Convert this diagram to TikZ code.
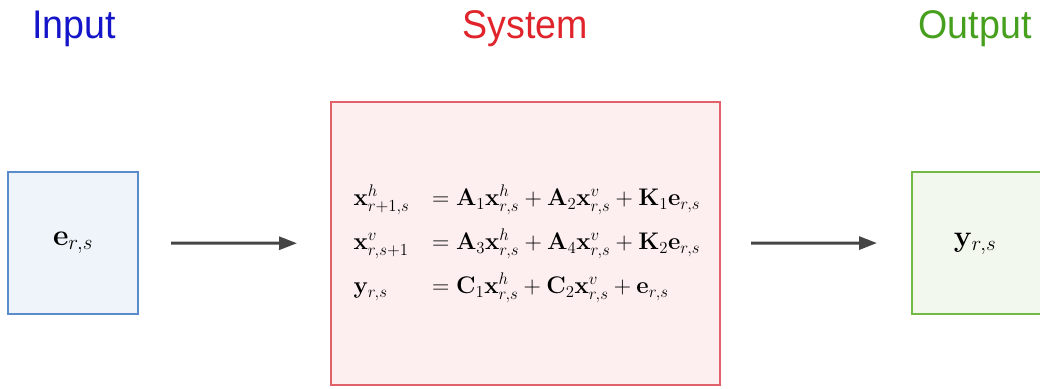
\RequirePackage{fix-cm}
\documentclass[tikz,border=0pt]{standalone}
\usepackage{amsmath}
\usepackage[no-math]{fontspec}
\newfontfamily\titlefont{Liberation Sans}
\usetikzlibrary{arrows.meta}
\definecolor{inblue}{HTML}{1414C8}
\definecolor{sysred}{HTML}{E0242C}
\definecolor{outgreen}{HTML}{46A01E}
\definecolor{inborder}{HTML}{5A8CCB}
\definecolor{infill}{HTML}{EEF4FA}
\definecolor{sysborder}{HTML}{E2606A}
\definecolor{sysfill}{HTML}{FDEFEF}
\definecolor{outborder}{HTML}{72BA44}
\definecolor{outfill}{HTML}{F3F8EF}
\definecolor{arrgray}{HTML}{454545}
\begin{document}
\begin{tikzpicture}[x=1pt,y=-1pt,
  title/.style={font=\titlefont\fontsize{40}{44}\selectfont, inner sep=0pt, anchor=base},
  boxstyle/.style={draw, line width=2pt, inner sep=0pt},
  conn/.style={draw=arrgray, line width=3pt, -{Triangle[length=18pt,width=13pt]}},
  mathlbl/.style={font=\fontsize{24}{29}\selectfont},
  boxlbl/.style={font=\fontsize{30}{35}\selectfont}]
\clip (0,0) rectangle (1040,388);
\useasboundingbox (0,0) rectangle (1040,388);
\node[title, text=inblue] (tin) at (74,38) {\scalebox{0.94}[1]{Input}};
\node[title, text=sysred] (tsys) at (525,38) {\scalebox{0.94}[1]{System}};
\node[title, text=outgreen] (tout) at (975,38) {\scalebox{0.94}[1]{Output}};
\node[boxstyle, draw=inborder, fill=infill, minimum width=130pt, minimum height=142pt] (inp) at (73,243) {};
\node[boxlbl] (inlbl) at (inp.center) {$\mathbf{e}_{r,s}$};
\node[boxstyle, draw=sysborder, fill=sysfill, minimum width=389pt, minimum height=283pt] (sys) at (525.5,243.5) {};
\node[mathlbl, anchor=west] (eqs) at (350,244) {$\begin{array}{@{}l@{\hspace{16pt}}l@{}}
\mathbf{x}^h_{r+1,s} & {}= \mathbf{A}_1\mathbf{x}^h_{r,s} + \mathbf{A}_2\mathbf{x}^v_{r,s} + \mathbf{K}_1\mathbf{e}_{r,s}\\[15pt]
\mathbf{x}^v_{r,s+1} & {}= \mathbf{A}_3\mathbf{x}^h_{r,s} + \mathbf{A}_4\mathbf{x}^v_{r,s} + \mathbf{K}_2\mathbf{e}_{r,s}\\[15pt]
\mathbf{y}_{r,s} & {}= \mathbf{C}_1\mathbf{x}^h_{r,s} + \mathbf{C}_2\mathbf{x}^v_{r,s} + \mathbf{e}_{r,s}
\end{array}$};
\node[boxstyle, draw=outborder, fill=outfill, minimum width=142pt, minimum height=142pt] (out) at (983,243) {};
\node[boxlbl] (outlbl) at (975,244) {$\mathbf{y}_{r,s}$};
\draw[conn, shorten <=32pt, shorten >=33pt] (inp) -- (sys);
\draw[conn, shorten <=30pt, shorten >=34pt] (sys) -- (out.west);
\end{tikzpicture}
\end{document}
